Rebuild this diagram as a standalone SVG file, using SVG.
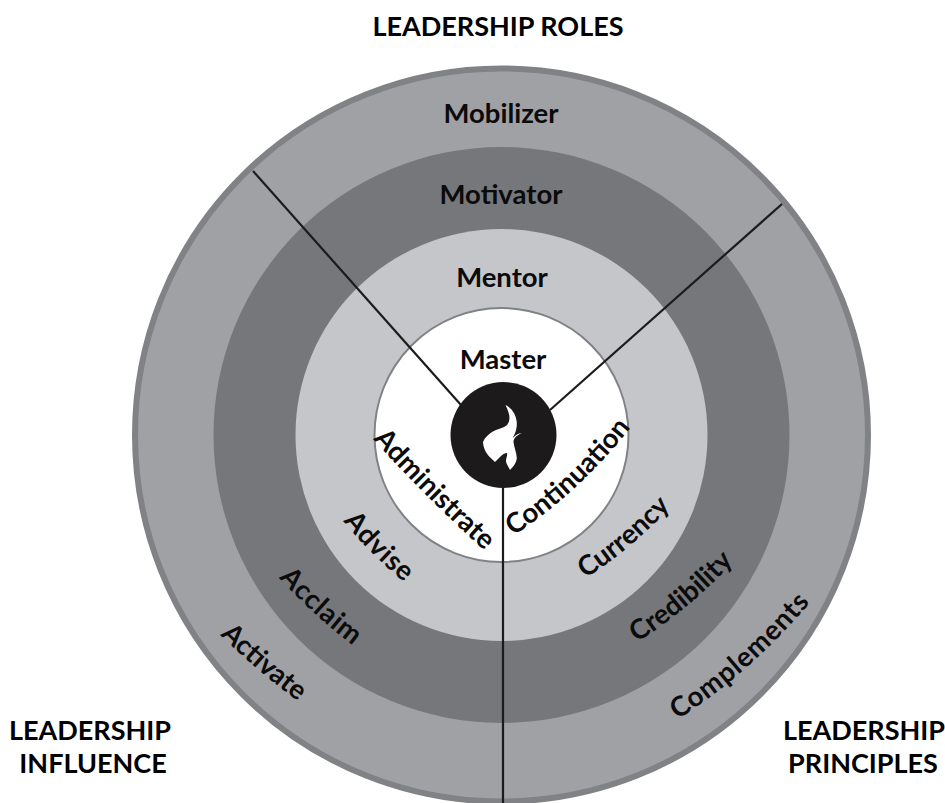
<svg xmlns="http://www.w3.org/2000/svg" width="945" height="803" viewBox="0 0 945 803">
<style>
text{font-family:"Lato","Liberation Sans",sans-serif;font-weight:700;fill:#0b0b0b}
.h{font-size:27px;text-anchor:middle;fill:#000}
.l{font-size:27.5px;text-anchor:middle}
.a{font-size:27.5px;text-anchor:middle}
.w{letter-spacing:.8px}
.c{stroke:#1c1a1b;stroke-width:2.2;fill:none}
</style>
<defs>
<path id="pAdm" d="M372 438Q420 492 486 552"/>
<path id="pCon" d="M512 537Q580 492 632 426"/>
<path id="pAdv" d="M336 512Q370 556 414 590"/>
<path id="pCur" d="M580 582Q634 548 675 502"/>
<path id="pAcc" d="M272 570Q312 616 362 652"/>
<path id="pCre" d="M633 645Q692 608 737 558"/>
<path id="pAct" d="M213 628Q257 672 306 707"/>
<path id="pCom" d="M668 726Q754 672 818 593"/>
</defs>
<g id="ring-outer"><circle cx="501.5" cy="435" r="366.5" fill="#a0a1a5" stroke="#808285" stroke-width="6"/></g>
<g id="ring-motivator"><circle cx="501.500" cy="435" r="288" fill="#76777b"/></g>
<g id="ring-mentor"><circle cx="501.5" cy="435" r="206" fill="#c5c6c9"/></g>
<g id="ring-master"><circle cx="501.5" cy="435" r="127" fill="#fff" stroke="#808285" stroke-width="2"/></g>
<g id="connectors">
<line class="c" x1="253" y1="171" x2="461" y2="405"/>
<line class="c" x1="782" y1="204" x2="550" y2="410"/>
<line class="c" x1="503" y1="485" x2="503" y2="803"/>
</g>
<g id="hub"><circle cx="503.5" cy="435" r="53" fill="#1c1a1b"/>
<path fill="#fff" d="M505.500 405C512 408 516.500 415 516.800 423C517 430 514.500 435 512.500 438C515 436 518 433 522 433C517 435 513.500 438 513.500 442C514 447 516.500 452 516.800 458C516.500 463 513 467 510 470C508 466 505.500 463 506 460C506.500 457 507.500 455 507 453C503 453 499 458 495 462C491 458 486 454 484.500 449C483.500 446 483 444 483 442C485 437 489 434 492 432C497 429 504 428 507 425C510 421 511 416 505.500 405Z"/></g>
<g id="title"><text class="h" x="498" y="36">LEADERSHIP ROLES</text></g>
<g id="influence"><text class="h" x="90" y="740">LEADERSHIP</text><text class="h" x="93" y="773">INFLUENCE</text></g>
<g id="principles"><text class="h" x="864" y="740">LEADERSHIP</text><text class="h" x="863" y="773">PRINCIPLES</text></g>
<g id="mobilizer"><text class="l" x="501" y="123">Mobilizer</text></g>
<g id="motivator"><text class="l" x="501" y="204">Motivator</text></g>
<g id="mentor"><text class="l" x="502" y="287">Mentor</text></g>
<g id="master"><text class="l" x="503" y="369">Master</text></g>
<g id="administrate"><text class="a"><textPath href="#pAdm" startOffset="50%">Administrate</textPath></text></g>
<g id="continuation"><text class="a"><textPath href="#pCon" startOffset="50%">Continuation</textPath></text></g>
<g id="advise"><text class="a w"><textPath href="#pAdv" startOffset="50%">Advise</textPath></text></g>
<g id="currency"><text class="a"><textPath href="#pCur" startOffset="50%">Currency</textPath></text></g>
<g id="acclaim"><text class="a w"><textPath href="#pAcc" startOffset="50%">Acclaim</textPath></text></g>
<g id="credibility"><text class="a"><textPath href="#pCre" startOffset="50%">Credibility</textPath></text></g>
<g id="activate"><text class="a"><textPath href="#pAct" startOffset="50%">Activate</textPath></text></g>
<g id="complements"><text class="a w"><textPath href="#pCom" startOffset="50%">Complements</textPath></text></g>
</svg>
